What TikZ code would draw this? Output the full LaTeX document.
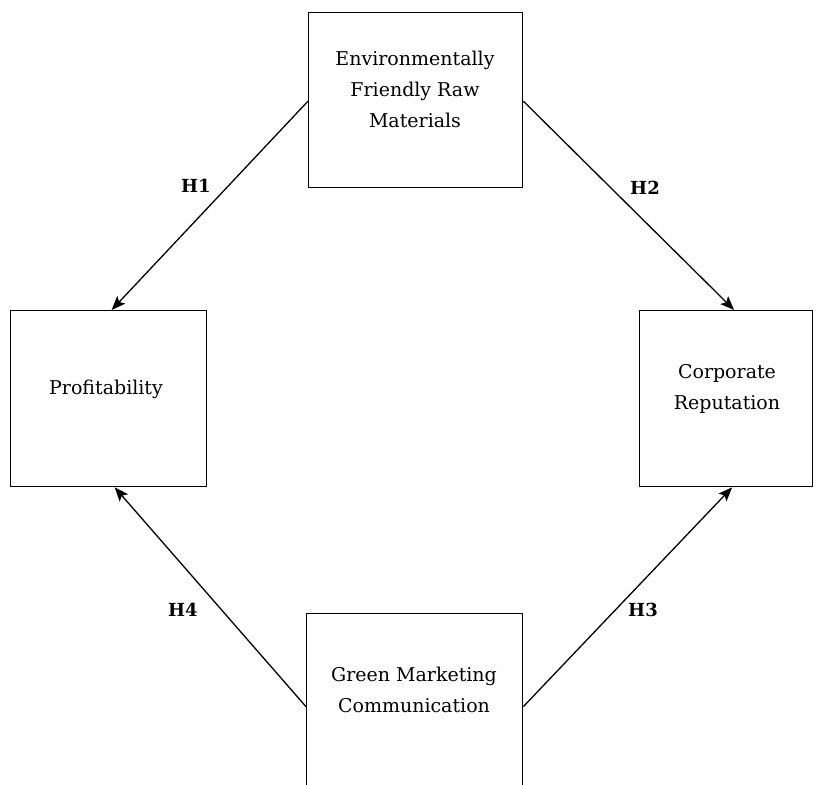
\documentclass[tikz,border=0pt]{standalone}
\usepackage{fontspec}
\setmainfont{DejaVu Serif}
\usetikzlibrary{arrows.meta}
\begin{document}
\begin{tikzpicture}[x=1pt,y=-1pt,
  boxnode/.style={draw, line width=1.3pt, inner sep=0pt, anchor=north west},
  boxtext/.style={align=center, font=\fontsize{19}{31}\selectfont, inner sep=0pt},
  hlabel/.style={font=\fontsize{18}{20}\bfseries\selectfont, inner sep=0pt},
  arr/.style={line width=1.3pt, -{Stealth[length=14pt,width=11pt,inset=3pt]}}]
\useasboundingbox (0,0) rectangle (824,784);
% boxes
\node[boxnode, minimum width=214pt, minimum height=175pt] (env) at (308,12) {};
\node[boxnode, minimum width=196pt, minimum height=176pt] (prof) at (10,310) {};
\node[boxnode, minimum width=173pt, minimum height=176pt] (rep) at (639,310) {};
\node[boxnode, minimum width=216pt, minimum height=180pt] (gmc) at (306,613) {};
% texts
\node[boxtext] (tenv) at (415,89) {Environmentally\\Friendly Raw\\Materials};
\node[boxtext] (tprof) at (106,389) {Profitability};
\node[boxtext] (trep) at (727,389) {Corporate\\Reputation};
\node[boxtext] (tgmc) at (414,690) {Green Marketing\\Communication};
% arrows
\draw[arr] ([yshift=-1pt]env.west) -- ([xshift=3pt]prof.north);
\draw[arr] ([yshift=-1pt]env.east) -- ([xshift=8pt]rep.north);
\draw[arr] ([yshift=-3pt]gmc.east) -- ([xshift=6pt]rep.south);
\draw[arr] ([yshift=-3pt]gmc.west) -- ([xshift=6pt]prof.south);
% labels
\node[hlabel] (h1) at (196,186) {H1};
\node[hlabel] (h2) at (645,188) {H2};
\node[hlabel] (h3) at (643,610) {H3};
\node[hlabel] (h4) at (183,610) {H4};
\end{tikzpicture}
\end{document}
